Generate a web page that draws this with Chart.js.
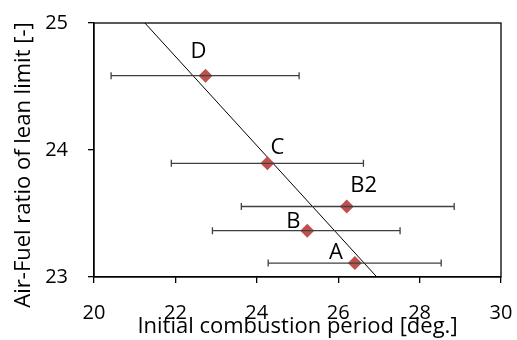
<!DOCTYPE html>
<html>
<head>
<meta charset="utf-8">
<script src="https://cdn.jsdelivr.net/npm/chart.js@4"></script>
<style>
  html, body { margin: 0; padding: 0; background: #fff; }
  #wrap { width: 517px; height: 340px; }
</style>
</head>
<body>
<div id="wrap"><canvas id="leanLimitChart"></canvas></div>
<script>
/* ======================================================
   DATA
====================================================== */

const caseLabels = ["A", "B", "B2", "C", "D"];
const combustionPeriod = [26.41, 25.24, 26.21, 24.26, 22.74];
const afrLeanLimit = [23.11, 23.365, 23.555, 23.895, 24.585];
const periodMin = [24.28, 22.91, 23.62, 21.90, 20.42];
const periodMax = [28.53, 27.52, 28.85, 26.62, 25.04];

const trendX = [21.25, 26.95];
const trendY = [25, 23];

const xTicks = [20, 22, 24, 26, 28, 30];
const yTicks = [23, 24, 25];

/* ======================================================
   HELPERS
====================================================== */

const FONT = "'Open Sans', sans-serif";
const MARKER = "#C0504D";

// label offsets from the marker, in px
const labelOffsets = {
  A: [-19, -10],
  B: [-14, -9],
  B2: [17, -21],
  C: [10, -16],
  D: [-7, -24]
};

function noScalePadding(s) {
  s.paddingTop = 0;
  s.paddingBottom = 0;
  s.paddingLeft = 0;
  s.paddingRight = 0;
}

const errorBars = {
  id: "errorBars",
  afterDatasetsDraw(chart) {
    const { ctx, scales: { x, y } } = chart;
    ctx.save();
    ctx.strokeStyle = "#404040";
    ctx.lineWidth = 1.3;
    combustionPeriod.forEach((_, i) => {
      const py = y.getPixelForValue(afrLeanLimit[i]);
      const x0 = x.getPixelForValue(periodMin[i]);
      const x1 = x.getPixelForValue(periodMax[i]);
      ctx.beginPath();
      ctx.moveTo(x0, py); ctx.lineTo(x1, py);
      ctx.moveTo(x0, py - 3.5); ctx.lineTo(x0, py + 3.5);
      ctx.moveTo(x1, py - 3.5); ctx.lineTo(x1, py + 3.5);
      ctx.stroke();
    });
    ctx.restore();
  }
};

const pointLabels = {
  id: "pointLabels",
  afterDraw(chart) {
    const { ctx, scales: { x, y } } = chart;
    ctx.save();
    ctx.fillStyle = "#000";
    ctx.font = "22px " + FONT;
    ctx.textAlign = "center";
    ctx.textBaseline = "middle";
    caseLabels.forEach((lbl, i) => {
      const off = labelOffsets[lbl];
      ctx.fillText(lbl,
        x.getPixelForValue(combustionPeriod[i]) + off[0],
        y.getPixelForValue(afrLeanLimit[i]) + off[1]);
    });
    ctx.restore();
  }
};

// y title drawn by hand: in the original it sits a bit below the axis centre
const yTitle = {
  id: "yTitle",
  afterDraw(chart) {
    const { ctx } = chart;
    ctx.save();
    ctx.translate(24, 165);
    ctx.rotate(-Math.PI / 2);
    ctx.fillStyle = "#000";
    ctx.font = "22px " + FONT;
    ctx.textAlign = "center";
    ctx.textBaseline = "middle";
    ctx.fillText("Air-Fuel ratio of lean limit [-]", 0, 0);
    ctx.restore();
  }
};

const frame = {
  id: "frame",
  afterDraw(chart) {
    const { ctx, chartArea: a } = chart;
    ctx.save();
    ctx.strokeStyle = "#000";
    ctx.lineWidth = 1.3;
    ctx.strokeRect(a.left, a.top, a.right - a.left, a.bottom - a.top);
    ctx.restore();
  }
};

/* ======================================================
   CHART
====================================================== */

function createLeanLimitChart() {
  const ctx = document.getElementById("leanLimitChart");

  return new Chart(ctx, {
    type: "scatter",
    data: {
      datasets: [{
        label: "Trend",
        type: "line",
        data: trendX.map((v, i) => ({ x: v, y: trendY[i] })),
        borderColor: "#000",
        borderWidth: 1,
        pointRadius: 0,
        fill: false,
        order: 2
      }, {
        label: "Lean limit",
        data: combustionPeriod.map((v, i) => ({ x: v, y: afrLeanLimit[i] })),
        pointStyle: "rectRot",
        pointRadius: 7,
        backgroundColor: MARKER,
        borderColor: MARKER,
        borderWidth: 0,
        order: 1
      }]
    },
    options: {
      responsive: true,
      maintainAspectRatio: false,
      animation: false,
      layout: { padding: { top: 23, right: 16, left: 0, bottom: 0 } },
      plugins: { legend: { display: false }, tooltip: { enabled: false } },
      scales: {
        x: {
          type: "linear",
          min: 20, max: 30,
          afterBuildTicks: s => { s.ticks = xTicks.map(v => ({ value: v })); },
          afterFit: s => { s.height = 63; noScalePadding(s); },
          border: { color: "#000", width: 1.3 },
          grid: { drawOnChartArea: false, drawTicks: true, tickLength: 6, color: "#000", lineWidth: 1.3 },
          ticks: { color: "#000", font: { family: FONT, size: 20 }, padding: 18, maxRotation: 0 },
          title: {
            display: true,
            text: "Initial combustion period [deg.]",
            color: "#000",
            font: { family: FONT, size: 22 },
            padding: { top: 0, bottom: 0 }
          }
        },
        y: {
          type: "linear",
          min: 23, max: 25,
          afterBuildTicks: s => { s.ticks = yTicks.map(v => ({ value: v })); },
          afterFit: s => { s.width = 94; noScalePadding(s); },
          border: { color: "#000", width: 1.3 },
          grid: { drawOnChartArea: false, drawTicks: true, tickLength: 6, color: "#000", lineWidth: 1.3 },
          ticks: { color: "#000", font: { family: FONT, size: 20 }, padding: 20 }
        }
      }
    },
    plugins: [errorBars, pointLabels, yTitle, frame]
  });
}

createLeanLimitChart();
</script>
</body>
</html>
